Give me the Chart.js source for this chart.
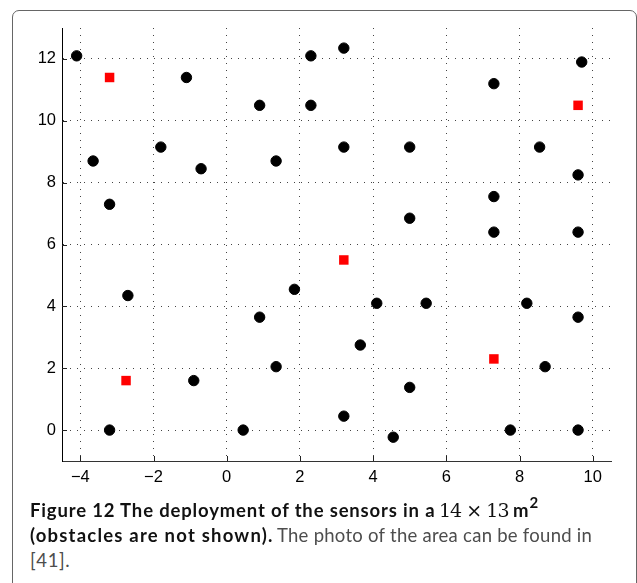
<!DOCTYPE html>
<html>
<head>
<meta charset="utf-8">
<script src="https://cdn.jsdelivr.net/npm/chart.js@4/dist/chart.umd.min.js"></script>
<style>
  html, body { margin: 0; padding: 0; background: #fff; }
  body { width: 637px; height: 583px; position: relative; overflow: hidden; }
  #frame { position: absolute; left: 12px; top: 10px; width: 625px; height: 620px; box-sizing: border-box;
           border: 1px solid #666; border-radius: 7px; }
  #wrap { position: absolute; left: 0; top: 0; width: 637px; height: 500px; }
  .t { position: absolute; white-space: nowrap; line-height: 1; font-family: Lato, sans-serif; font-size: 18.5px; }
  .b { font-weight: 700; color: #111; }
  .n { font-weight: 400; color: #4d4d4d; }
  .m { font-family: "DejaVu Serif", serif; font-size: 19px; color: #111; }
  .s { font-weight: 700; color: #111; font-size: 15px; }
</style>
</head>
<body>
<div id="frame"></div>
<div id="wrap"><canvas id="c"></canvas></div>
<div id="cap">
  <span class="t b" id="b1">Figure 12 The deployment of the sensors in a</span>
  <span class="t m" id="m1">14 × 13</span>
  <span class="t b" id="u1">m</span>
  <span class="t s" id="s1">2</span>
  <span class="t b" id="b2">(obstacles are not shown).</span>
  <span class="t n" id="n2">The photo of the area can be found in</span>
  <span class="t n" id="n3">[41].</span>
</div>
<script>
// Sensor positions (black circles)
const sensorX = [-4.1, 2.3, 3.2, 9.7, -1.1, 7.3, 0.9, 2.3,
                 -3.65, -1.8, -0.7, 1.35, 3.2, 5.0, 8.55, 9.6,
                 -3.2, 7.3, 5.0, 7.3, 9.6,
                 -2.7, 1.85, 4.1, 5.45, 8.2, 0.9, 9.6,
                 3.65, 1.35, 8.7, -0.9, 5.0, 3.2,
                 -3.2, 0.45, 4.55, 7.75, 9.6];
const sensorY = [12.1, 12.1, 12.35, 11.9, 11.4, 11.2, 10.5, 10.5,
                 8.7, 9.15, 8.45, 8.7, 9.15, 9.15, 9.15, 8.25,
                 7.3, 7.55, 6.85, 6.4, 6.4,
                 4.35, 4.55, 4.1, 4.1, 4.1, 3.65, 3.65,
                 2.75, 2.05, 2.05, 1.6, 1.38, 0.45,
                 0, 0, -0.23, 0, 0];
// Anchor positions (red squares)
const anchorX = [-3.2, 9.6, 3.2, 7.3, -2.75];
const anchorY = [11.4, 10.5, 5.5, 2.3, 1.6];
// Axis ticks
const xTicks = [-4, -2, 0, 2, 4, 6, 8, 10];
const yTicks = [0, 2, 4, 6, 8, 10, 12];
const xRange = [-4.5, 10.5];
const yRange = [-1, 13];

// Caption layout: [id, left, right (null = natural width), baseline, baselineOffsetFactor]
const capLayout = [
  ['b1', 30, 435, 517, 0.887],
  ['m1', 439, 509, 517, 0.84],
  ['u1', 513, null, 517, 0.887],
  ['s1', 'after:u1', null, 508, 0.887],
  ['b2', 30, 273, 542, 0.887],
  ['n2', 277, 592, 542, 0.887],
  ['n3', 30, 70, 567, 0.887]
];
function layoutCaption() {
  capLayout.forEach(([id, l, r, base, f]) => {
    const el = document.getElementById(id);
    const fs = parseFloat(getComputedStyle(el).fontSize);
    let left = l;
    if (typeof l === 'string') {
      const ref = document.getElementById(l.split(':')[1]).getBoundingClientRect();
      left = ref.right + 1;
    }
    el.style.left = left + 'px';
    el.style.top = (base - f * fs) + 'px';
    el.style.letterSpacing = '0px';
    if (r !== null) {
      const w = el.getBoundingClientRect().width;
      const n = el.textContent.length;
      if (n > 1) el.style.letterSpacing = ((r - left - w) / (n - 0.5)) + 'px';
    }
  });
}
layoutCaption();
if (document.fonts && document.fonts.ready) document.fonts.ready.then(layoutCaption);

const toPts = (xs, ys) => xs.map((x, i) => ({ x: x, y: ys[i] }));
const fmt = v => (v < 0 ? '\u2212' + Math.abs(v) : String(v));

const tickMarks = {
  id: 'tickMarks',
  beforeDatasetsDraw(chart) {
    const { ctx, chartArea: a, scales: { x, y } } = chart;
    ctx.save();
    ctx.strokeStyle = '#222';
    ctx.lineWidth = 1;
    ctx.beginPath();
    x.ticks.forEach(t => {
      const px = Math.round(x.getPixelForValue(t.value)) + 0.5;
      ctx.moveTo(px, a.bottom); ctx.lineTo(px, a.bottom - 5);
    });
    y.ticks.forEach(t => {
      const py = Math.round(y.getPixelForValue(t.value)) + 0.5;
      ctx.moveTo(a.left, py); ctx.lineTo(a.left + 5, py);
    });
    ctx.stroke();
    ctx.restore();
  }
};

const tickFont = { family: '"Liberation Sans", Arial, sans-serif', size: 16.5 };

new Chart(document.getElementById('c'), {
  type: 'scatter',
  data: {
    datasets: [
      { label: 'Sensors', data: toPts(sensorX, sensorY), pointStyle: 'circle', pointRadius: 5.2,
        pointBorderWidth: 1, backgroundColor: '#000', borderColor: '#000' },
      { label: 'Anchors', data: toPts(anchorX, anchorY), pointStyle: 'rect', pointRadius: 6.7,
        pointBorderWidth: 0, backgroundColor: '#ff0000', borderColor: '#ff0000' }
    ]
  },
  options: {
    responsive: true,
    maintainAspectRatio: false,
    animation: false,
    events: [],
    layout: { padding: { top: 28, right: 26, left: 0, bottom: 0 } },
    plugins: { legend: { display: false }, tooltip: { enabled: false } },
    scales: {
      x: {
        type: 'linear', position: 'bottom', min: xRange[0], max: xRange[1],
        afterBuildTicks: s => { s.ticks = xTicks.map(v => ({ value: v })); },
        afterFit: s => { s.height = 39; },
        ticks: { font: tickFont, color: '#000', padding: 7, maxRotation: 0, autoSkip: false, callback: v => fmt(v) },
        grid: { color: '#444', lineWidth: 1, drawTicks: false },
        border: { display: true, color: '#333', width: 1, dash: [1, 6] }
      },
      y: {
        type: 'linear', position: 'left', min: yRange[0], max: yRange[1],
        afterBuildTicks: s => { s.ticks = yTicks.map(v => ({ value: v })); },
        afterFit: s => { s.width = 62; },
        ticks: { font: tickFont, color: '#000', padding: 6, autoSkip: false, callback: v => fmt(v) },
        grid: { color: '#444', lineWidth: 1, drawTicks: false },
        border: { display: true, color: '#000', width: 1, dash: [1, 6] }
      }
    }
  },
  plugins: [tickMarks]
});
</script>
</body>
</html>
